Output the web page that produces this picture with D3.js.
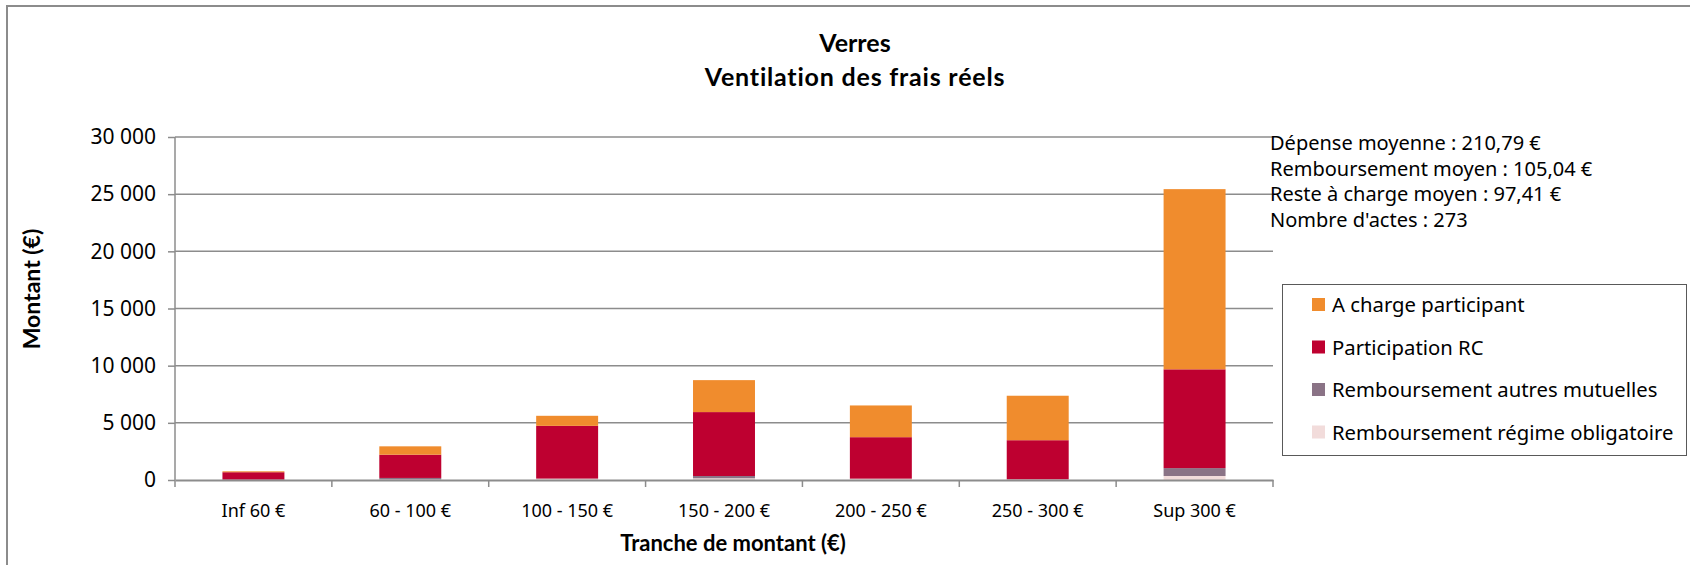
<!DOCTYPE html>
<html>
<head>
<meta charset="utf-8">
<script src="https://cdn.jsdelivr.net/npm/d3@7"></script>
<style>
  html, body { margin: 0; padding: 0; background: #fff; }
  svg { display: block; }
</style>
</head>
<body>
<svg id="chart" width="1690" height="565"></svg>
<script>
// ---- Data ----
const categories = ["Inf 60 €", "60 - 100 €", "100 - 150 €", "150 - 200 €", "200 - 250 €", "250 - 300 €", "Sup 300 €"];
const regimeObligatoire = [20, 50, 110, 150, 105, 50, 350];
const autresMutuelles = [10, 130, 15, 200, 15, 10, 690];
const participationRC = [650, 2030, 4610, 5590, 3625, 3420, 8640];
const aChargeParticipant = [80, 735, 880, 2795, 2775, 3890, 15760];
const yTickValues = [0, 5000, 10000, 15000, 20000, 25000, 30000];
const seriesNames = ["Remboursement régime obligatoire", "Remboursement autres mutuelles", "Participation RC", "A charge participant"];
const seriesColors = ["#F2DCDB", "#8A7386", "#BE0030", "#F08C2D"];
const titleLines = ["Verres", "Ventilation des frais réels"];
const infoLines = ["Dépense moyenne : 210,79 €", "Remboursement moyen : 105,04 €", "Reste à charge moyen : 97,41 €", "Nombre d'actes : 273"];
const xAxisTitle = "Tranche de montant (€)";
const yAxisTitle = "Montant (€)";

// ---- Layout ----
const svg = d3.select("#chart");
const plot = { left: 175, right: 1273, top: 137, bottom: 480 };
const gridColor = "#8C8C8C";
const textFont = "'Noto Sans', 'Open Sans', sans-serif";
const boldFont = "Lato, 'Open Sans', sans-serif";

const fr = d3.formatLocale({ decimal: ",", thousands: " ", grouping: [3], currency: ["", " €"] });
const fmt = fr.format(",d");

const table = categories.map((c, i) => ({
  cat: c,
  [seriesNames[0]]: regimeObligatoire[i],
  [seriesNames[1]]: autresMutuelles[i],
  [seriesNames[2]]: participationRC[i],
  [seriesNames[3]]: aChargeParticipant[i]
}));
const stacked = d3.stack().keys(seriesNames)(table);

const x = d3.scaleBand().domain(categories).range([plot.left, plot.right]).padding(0);
const barW = x.bandwidth() * 0.395;
const y = d3.scaleLinear().domain([0, 30000]).range([plot.bottom, plot.top]);
const color = d3.scaleOrdinal().domain(seriesNames).range(seriesColors);

// Outer chart border
svg.append("path")
  .attr("d", "M7,565 L7,6 L1690,6")
  .attr("fill", "none").attr("stroke", gridColor).attr("stroke-width", 2);

// Gridlines
svg.append("g").selectAll("line").data(yTickValues.filter(v => v > 0)).join("line")
  .attr("x1", plot.left).attr("x2", plot.right)
  .attr("y1", d => y(d)).attr("y2", d => y(d))
  .attr("stroke", gridColor).attr("stroke-width", 1.5);

// Bars
svg.append("g").selectAll("g").data(stacked).join("g")
  .attr("fill", d => color(d.key))
  .selectAll("rect").data(d => d).join("rect")
  .attr("x", d => x(d.data.cat) + x.bandwidth() / 2 - barW / 2)
  .attr("width", barW)
  .attr("y", d => y(d[1]))
  .attr("height", d => y(d[0]) - y(d[1]));

// Y axis
const yAxis = d3.axisLeft(y).tickValues(yTickValues).tickFormat(fmt).tickSize(7).tickPadding(12);
const gy = svg.append("g").attr("transform", `translate(${plot.left},0)`).call(yAxis);
gy.select(".domain").attr("stroke", gridColor).attr("stroke-width", 1.5).attr("d", `M0,${plot.top}V${plot.bottom}`);
gy.selectAll(".tick line").attr("stroke", gridColor).attr("stroke-width", 1.5);
gy.selectAll(".tick text").attr("font-family", textFont).attr("font-size", 21).attr("fill", "#000");

// X axis
const xAxis = d3.axisBottom(x).tickSize(0).tickPadding(24);
const gx = svg.append("g").attr("transform", `translate(0,${plot.bottom})`).call(xAxis);
gx.select(".domain").attr("stroke", gridColor).attr("stroke-width", 2);
gx.selectAll(".tick text").attr("font-family", textFont).attr("font-size", 18).attr("fill", "#000");
// boundary tick marks
const bounds = categories.map(c => x(c)).concat([plot.right]);
svg.append("g").selectAll("line").data(bounds).join("line")
  .attr("x1", d => d).attr("x2", d => d)
  .attr("y1", plot.bottom).attr("y2", plot.bottom + 7)
  .attr("stroke", gridColor).attr("stroke-width", 1.5);

// Title
const tt = svg.append("text").attr("text-anchor", "middle")
  .attr("font-family", boldFont).attr("font-weight", "bold").attr("font-size", 25).attr("fill", "#000");
tt.selectAll("tspan").data(titleLines).join("tspan")
  .attr("x", 855).attr("y", (d, i) => 52 + i * 33.5)
  .attr("letter-spacing", (d, i) => i === 1 ? "0.8px" : null)
  .text(d => d);

// Axis titles
svg.append("text").attr("x", 733).attr("y", 551).attr("text-anchor", "middle")
  .attr("font-family", boldFont).attr("font-weight", "bold").attr("font-size", 22).attr("fill", "#000")
  .text(xAxisTitle);
svg.append("text").attr("transform", "translate(40,289) rotate(-90)").attr("text-anchor", "middle")
  .attr("font-family", boldFont).attr("font-weight", "bold").attr("font-size", 23).attr("fill", "#000")
  .text(yAxisTitle);

// Info text
svg.append("g").selectAll("text").data(infoLines).join("text")
  .attr("x", 1270).attr("y", (d, i) => 150 + i * 25.5)
  .attr("font-family", textFont).attr("font-size", 20).attr("fill", "#000")
  .text(d => d);

// Legend
const legendG = svg.append("g");
legendG.append("rect").attr("x", 1282.5).attr("y", 284.5).attr("width", 404).attr("height", 171)
  .attr("fill", "#fff").attr("stroke", "#595959").attr("stroke-width", 1);
const legendOrder = seriesNames.slice().reverse();
const li = legendG.selectAll("g.item").data(legendOrder).join("g").attr("class", "item")
  .attr("transform", (d, i) => `translate(1312,${305 + i * 42.5})`);
li.append("rect").attr("x", 0).attr("y", -7).attr("width", 13).attr("height", 13).attr("fill", d => color(d));
li.append("text").attr("x", 20).attr("y", 0).attr("dy", "0.35em")
  .attr("font-family", textFont).attr("font-size", 20.3).attr("fill", "#000").text(d => d);
</script>
</body>
</html>
